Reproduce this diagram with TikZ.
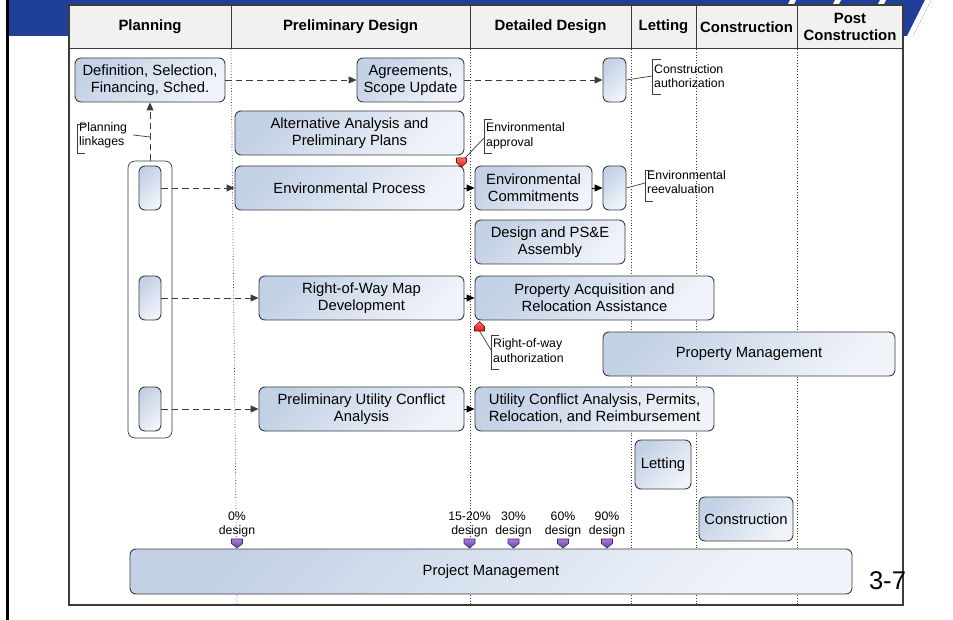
\documentclass[tikz,border=0pt]{standalone}
\usepackage{fontspec}
\setmainfont{Liberation Sans}
\usetikzlibrary{arrows.meta,calc}
\definecolor{band}{HTML}{1F3F99}
\definecolor{boxa}{HTML}{C3D1E5}
\definecolor{boxb}{HTML}{F0F4FA}
\definecolor{edge}{HTML}{3C3C3C}
\definecolor{hdr}{HTML}{F1F1F1}
\definecolor{purA}{HTML}{A57EDB}
\definecolor{purB}{HTML}{6B3FAE}
\definecolor{redA}{HTML}{FF7070}
\definecolor{redB}{HTML}{D81818}
\begin{document}
\begin{tikzpicture}[x=1pt,y=-1pt,
  box/.style={draw=edge, line width=0.9pt, rounded corners=6pt,
    top color=boxa, bottom color=boxb, shading angle=45,
    align=center, inner sep=0pt, font=\fontsize{14.8}{17}\selectfont},
  hd/.style={font=\fontsize{14.9}{17}\selectfont\bfseries, align=center, inner sep=0pt},
  anno/.style={font=\fontsize{12.3}{14.5}\selectfont, align=left, inner sep=0pt, anchor=west},
  msl/.style={font=\fontsize{12.3}{14}\selectfont, align=center, inner sep=0pt},
  brk/.style={draw=edge, line width=0.7pt},
  lead/.style={draw=edge, line width=0.7pt},
  dsh/.style={draw=edge, line width=0.9pt, dash pattern=on 6.5pt off 4pt, -{Triangle[length=8pt,width=7pt]}},
  sol/.style={draw=black, line width=0.9pt, -{Triangle[length=8pt,width=7pt]}},
  dot/.style={draw=edge, line width=0.7pt, dash pattern=on 0.8pt off 2pt},
  grp/.style={draw=edge, line width=0.7pt, rounded corners=7pt, inner sep=0pt},
  purmk/.style={draw=purB!60!black, line width=0.6pt, top color=purA, bottom color=purB},
  redmk/.style={draw=redB!60!black, line width=0.6pt, top color=redA, bottom color=redB}
]
\useasboundingbox (0,0) rectangle (953,620);
\fill[white] (0,0) rectangle (953,620);
% slide decoration
\fill[band] (9,0) -- (931,0) -- (913,36) -- (9,36) -- cycle;
\begin{scope}
\clip (9,0) -- (931,0) -- (913,36) -- (9,36) -- cycle;
\foreach \sx in {790,835,880,925}{
  \fill[white] (\sx,0) -- (\sx+6,0) -- (\sx+6-18,36) -- (\sx-18,36) -- cycle;}
\end{scope}
\fill[black] (5.5,0) rectangle (9,620);
% table
\fill[white] (69,5) rectangle (903,605);
\fill[hdr] (69,5) rectangle (903,49);
\foreach \cx in {231,470,631,696,797}{\draw[edge, line width=1pt] (\cx,5) -- (\cx,49);}
\draw[edge, line width=1pt] (69,49) -- (903,49);
\draw[dot] (231,49) -- (237,605);
\foreach \cx in {470,631,696,797}{\draw[dot] (\cx,49) -- (\cx,605);}
\draw[edge, line width=1.2pt] (69,5) rectangle (903,605);
\node[hd] (h1) at (150,27) {Planning};
\node[hd] (h2) at (350.5,27) {Preliminary Design};
\node[hd] (h3) at (550.5,27) {Detailed Design};
\node[hd] (h4) at (663.5,27) {Letting};
\node[hd] (h5) at (746.5,27) {Construction};
\node[hd] (h6) at (850,26.5) {Post\\Construction};
% boxes
\node[box, minimum width=150pt, minimum height=44pt] (def) at (150,80) {Definition, Selection,\\Financing, Sched.};
\node[box, minimum width=107pt, minimum height=44pt] (agr) at (410.5,80) {Agreements,\\Scope Update};
\node[box, minimum width=23pt, minimum height=44pt] (ca) at (614.5,80) {};
\node[box, minimum width=229pt, minimum height=44pt] (alt) at (349.5,133) {Alternative Analysis and\\Preliminary Plans};
\node[box, minimum width=229pt, minimum height=44pt] (envp) at (349.5,188) {Environmental Process};
\node[box, minimum width=117pt, minimum height=44pt] (envc) at (533.5,188) {Environmental\\Commitments};
\node[box, minimum width=23pt, minimum height=44pt] (er) at (614.5,188) {};
\node[box, minimum width=150pt, minimum height=44pt] (dps) at (550,242) {Design and PS\&E\\Assembly};
\node[box, minimum width=205pt, minimum height=44pt] (row) at (361.5,298) {Right-of-Way Map\\Development};
\node[box, minimum width=239pt, minimum height=44pt] (pa) at (594.5,298) {Property Acquisition and\\Relocation Assistance};
\node[box, minimum width=292pt, minimum height=44pt] (pm) at (749,354) {Property Management};
\node[box, minimum width=205pt, minimum height=44pt] (pu) at (361.5,409) {Preliminary Utility Conflict\\Analysis};
\node[box, minimum width=239pt, minimum height=44pt] (uc) at (594.5,409) {Utility Conflict Analysis, Permits,\\Relocation, and Reimbursement};
\node[box, minimum width=56pt, minimum height=49pt] (let) at (663,464.5) {Letting};
\node[box, minimum width=94pt, minimum height=44pt] (con) at (746,519) {Construction};
\node[box, minimum width=722pt, minimum height=45pt] (proj) at (491,571.5) {Project Management};
% planning group
\node[grp, minimum width=44pt, minimum height=277pt] (grp) at (150,299.5) {};
\node[box, minimum width=22pt, minimum height=44pt] (g1) at (150,188) {};
\node[box, minimum width=22pt, minimum height=44pt] (g2) at (150,298) {};
\node[box, minimum width=22pt, minimum height=44pt] (g3) at (150,409) {};
% connectors
\draw[dsh] (def.east) -- (agr.west);
\draw[dsh] (agr.east) -- (ca.west);
\draw[dsh] (grp.north) -- (def.south);
\draw[dsh] (g1.east) -- (envp.west);
\draw[dsh] (g2.east) -- (row.west);
\draw[dsh] (g3.east) -- (pu.west);
\draw[sol] (envp.east) -- (envc.west);
\draw[sol] (envc.east) -- (er.west);
\draw[sol] (row.east) -- (pa.west);
\draw[sol] (pu.east) -- (uc.west);
% red markers
\draw[redmk] (456.5,158) -- (466.5,158) -- (466.5,162.5) -- (461.5,167) -- (456.5,162.5) -- cycle;
\coordinate (eam) at (465,158);
\draw[redmk] (474.5,331) -- (484.5,331) -- (484.5,326.5) -- (479.5,321.5) -- (474.5,326.5) -- cycle;
\coordinate (rwm) at (479.5,331);
% annotations
\node[anno] (tca) at (654,76) {Construction\\authorization};
\coordinate (bca) at (652,76);
\draw[brk] (661,59) -- (652,59) -- (652,94) -- (661,94);
\draw[lead] (ca.east) -- (bca);
\node[anno] (ter) at (647,182) {Environmental\\reevaluation};
\coordinate (ber) at (645,183);
\draw[brk] (653,170) -- (645,170) -- (645,201) -- (653,201);
\draw[lead] (er.east) -- (ber);
\node[anno] (tea) at (486,136) {Environmental\\approval};
\coordinate (bea) at (484,138);
\draw[brk] (492,119) -- (484,119) -- (484,153) -- (492,153);
\draw[lead] (eam) -- (bea);
\node[anno] (trw) at (493,350.5) {Right-of-way\\authorization};
\coordinate (brw) at (491,350);
\draw[brk] (499,335) -- (491,335) -- (491,369) -- (499,369);
\draw[lead] (rwm) -- (brw);
\node[anno] (tpl) at (79,135.5) {Planning\\linkages};
\coordinate (bpl) at (133,135);
\coordinate (ppl) at (150,137);
\draw[brk] (85,124) -- (77,124) -- (77,153) -- (85,153);
\draw[lead] (bpl) -- (ppl);
% design milestones
\foreach \mx/\mn/\ml in {237/m0/0\%, 469.5/m1/15-20\%, 513.5/m2/30\%, 563/m3/60\%, 607/m4/90\%}{
  \draw[purmk] (\mx-5.5,539) -- (\mx+5.5,539) -- (\mx+5.5,543.5) -- (\mx,548) -- (\mx-5.5,543.5) -- cycle;
  \node[msl] (\mn) at (\mx,524) {\ml\\design};
}
% page number
\node[font=\fontsize{25.6}{28}\selectfont, inner sep=0pt] (pg) at (887.5,581) {3-7};
\end{tikzpicture}
\end{document}
